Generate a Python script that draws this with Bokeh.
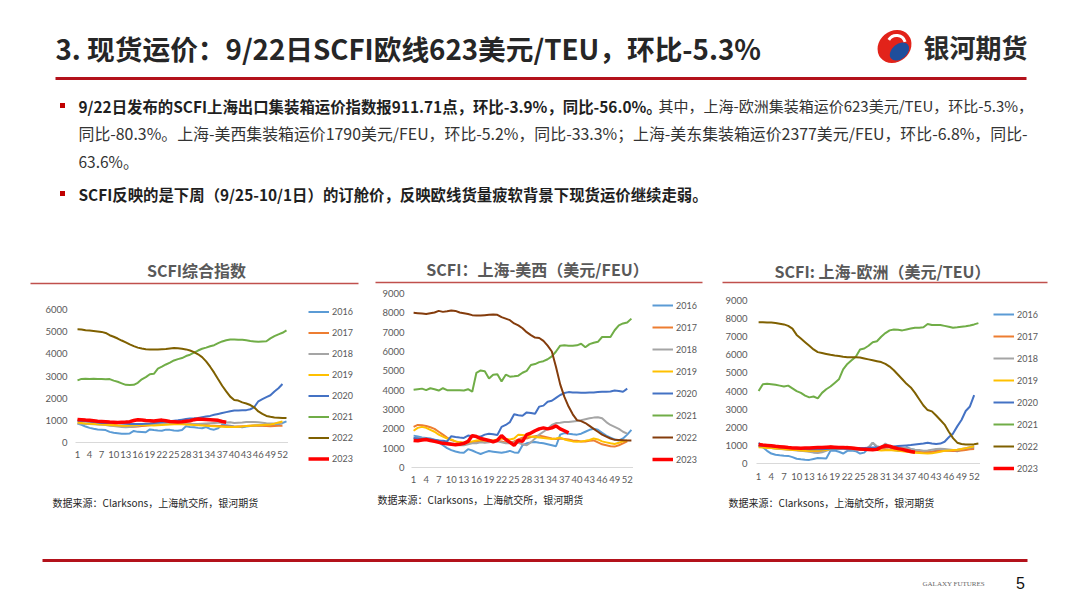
from bokeh.plotting import figure
from bokeh.models import Range1d, FixedTicker, Legend, LegendItem
from bokeh.layouts import column, row
from bokeh.embed import file_html
from bokeh.resources import INLINE
from bokeh.core.properties import value

NaN = float("nan")
CJK = "Noto Sans CJK SC"

# ---------------- text content ----------------
title_text = "3. 现货运价：9/22日SCFI欧线623美元/TEU，环比-5.3%"
logo_text = "银河期货"
para1_bold = "9/22日发布的SCFI上海出口集装箱运价指数报911.71点，环比-3.9%，同比-56.0%。"
para1_rest = "其中，上海-欧洲集装箱运价623美元/TEU，环比-5.3%，"
para1_line2 = "同比-80.3%。上海-美西集装箱运价1790美元/FEU，环比-5.2%，同比-33.3%；上海-美东集装箱运价2377美元/FEU，环比-6.8%，同比-"
para1_line3 = "63.6%。"
para2_bold = "SCFI反映的是下周（9/25-10/1日）的订舱价，反映欧线货量疲软背景下现货运价继续走弱。"
chart_titles = ["SCFI综合指数", "SCFI：上海-美西（美元/FEU）", "SCFI: 上海-欧洲（美元/TEU）"]
source_text = "数据来源：Clarksons，上海航交所，银河期货"
footer_brand = "GALAXY FUTURES"
page_no = "5"

# ---------------- data ----------------
weeks = list(range(1, 54))
years = ["2016", "2017", "2018", "2019", "2020", "2021", "2022", "2023"]
x_tick_labels = list(range(1, 53, 3))


def pad(v):
    return v + [NaN] * (53 - len(v))


# SCFI composite index
comp_2016 = [850, 800, 720, 660, 620, 590, 580, 560, 480, 440, 420, 400, 395, 410, 520, 480, 470, 460, 590, 560,
             540, 530, 580, 570, 540, 530, 560, 730, 700, 690, 660, 640, 700, 610, 580, 640, 800, 780, 760, 720,
             710, 690, 720, 740, 760, 780, 770, 750, 760, 780, 820, 880, 950]
comp_2017 = [1000, 980, 960, 940, 920, 900, 880, 860, 840, 800, 760, 740, 720, 700, 710, 720, 740, 760, 780, 800,
             820, 830, 850, 840, 860, 870, 880, 860, 850, 830, 820, 810, 790, 770, 760, 750, 740, 730, 720, 710,
             720, 730, 740, 760, 770, 760, 750, 740, 730, 740, 750, 760]
comp_2018 = [860, 850, 840, 830, 820, 810, 800, 790, 760, 740, 720, 700, 690, 700, 720, 760, 800, 810, 820, 830,
             840, 850, 860, 870, 880, 870, 860, 850, 840, 830, 840, 850, 860, 870, 880, 890, 890, 900, 910, 880,
             890, 900, 920, 930, 920, 910, 890, 870, 860, 860, 860, 860]
comp_2019 = [900, 880, 860, 850, 840, 820, 810, 800, 790, 780, 770, 760, 760, 770, 780, 790, 800, 790, 780, 770,
             780, 790, 800, 810, 820, 830, 820, 810, 800, 790, 780, 770, 760, 740, 730, 720, 710, 700, 700, 700,
             710, 720, 740, 760, 770, 780, 790, 800, 810, 850, 900, 950]
comp_2020 = [980, 970, 960, 950, 930, 900, 880, 880, 890, 900, 880, 860, 850, 840, 830, 830, 840, 850, 860, 880,
             900, 920, 940, 960, 980, 1000, 1030, 1060, 1080, 1090, 1110, 1140, 1170, 1200, 1250, 1290, 1330, 1370,
             1410, 1440, 1440, 1450, 1460, 1500, 1600, 1860, 1960, 2050, 2130, 2300, 2450, 2640]
comp_2021 = [2800, 2870, 2880, 2870, 2880, 2860, 2870, 2850, 2860, 2790, 2740, 2670, 2600, 2590, 2600, 2690, 2850,
             2950, 3080, 3100, 3330, 3420, 3520, 3600, 3700, 3760, 3810, 3900, 3960, 4050, 4150, 4230, 4280, 4340,
             4390, 4480, 4560, 4610, 4650, 4650, 4630, 4640, 4610, 4580, 4560, 4540, 4560, 4570, 4700, 4800, 4880,
             4950, 5060]
comp_2022 = [5110, 5100, 5060, 5050, 5030, 5010, 4990, 4940, 4840, 4770, 4690, 4600, 4520, 4430, 4350, 4280, 4240,
             4210, 4200, 4190, 4200, 4210, 4220, 4240, 4260, 4250, 4230, 4200, 4150, 4080, 3980, 3850, 3660, 3420,
             3150, 2850, 2560, 2310, 2070, 1920, 1890, 1810, 1760, 1690, 1580, 1400, 1290, 1200, 1160, 1130, 1120,
             1110, 1100]
comp_2023 = [1040, 1030, 1010, 1000, 980, 960, 950, 940, 920, 910, 900, 910, 920, 940, 990, 1030, 1010, 990, 980,
             970, 990, 1010, 980, 950, 940, 930, 940, 960, 980, 1030, 1060, 1050, 1040, 1030, 1020, 1000, 950, 912]

# Shanghai - US West (USD/FEU)
usw_2016 = [1650, 1600, 1550, 1530, 1500, 1420, 1300, 1150, 1000, 900, 830, 780, 760, 950, 880, 780, 700, 780, 850,
            820, 790, 760, 800, 860, 780, 760, 1150, 1250, 1300, 1320, 1280, 1250, 1200, 1150, 1100, 1700, 1780,
            1750, 1720, 1700, 1750, 1850, 1950, 2000, 1950, 1800, 1650, 1550, 1450, 1400, 1500, 1700, 1950]
usw_2017 = [2100, 2200, 2180, 2150, 2080, 2000, 1850, 1700, 1550, 1420, 1350, 1300, 1280, 1300, 1320, 1330, 1350,
            1400, 1420, 1400, 1380, 1350, 1300, 1280, 1350, 1450, 1550, 1500, 1580, 1620, 1650, 1600, 1550, 1500,
            1480, 1500, 1480, 1450, 1400, 1380, 1350, 1350, 1380, 1400, 1300, 1200, 1150, 1100, 1080, 1150, 1250, 1350]
usw_2018 = [1500, 1520, 1500, 1480, 1450, 1420, 1400, 1350, 1300, 1250, 1200, 1150, 1150, 1200, 1250, 1250, 1300,
            1280, 1300, 1350, 1350, 1300, 1250, 1250, 1300, 1280, 1200, 1150, 1300, 1500, 1700, 1850, 2000, 2200,
            2300, 2320, 2350, 2350, 2380, 2400, 2450, 2500, 2550, 2580, 2600, 2550, 2350, 2200, 2100, 2000, 1850, 1750]
usw_2019 = [1900, 2050, 2100, 2050, 1950, 1850, 1700, 1600, 1500, 1450, 1350, 1300, 1280, 1300, 1350, 1400, 1420,
            1400, 1380, 1400, 1450, 1500, 1480, 1450, 1500, 1700, 1680, 1650, 1600, 1580, 1550, 1520, 1500, 1480,
            1500, 1550, 1450, 1400, 1350, 1330, 1350, 1380, 1420, 1500, 1450, 1350, 1300, 1250, 1220, 1280, 1350, 1400]
usw_2020 = [1520, 1500, 1480, 1470, 1450, 1430, 1400, 1380, 1350, 1620, 1580, 1550, 1530, 1650, 1620, 1580, 1600,
            1700, 1750, 1720, 1680, 2100, 2200, 2350, 2750, 2700, 2680, 2850, 2820, 2780, 3150, 3200, 3400, 3450,
            3600, 3750, 3850, 3900, 3880, 3880, 3870, 3870, 3880, 3880, 3900, 3920, 3920, 3930, 3980, 3960, 3920, 4080]
usw_2021 = [4020, 4050, 4080, 4000, 4100, 4050, 3980, 4100, 4000, 3990, 4000, 4000, 3980, 4050, 3920, 4900, 5020,
            4980, 4600, 4800, 4820, 4450, 4800, 4700, 4720, 4750, 4900, 5000, 5300, 5350, 5450, 5500, 5600, 5750,
            6000, 6300, 6320, 6300, 6300, 6320, 6400, 6220, 6380, 6450, 6500, 6750, 6750, 6750, 7100, 7350, 7450,
            7500, 7700]
usw_2022 = [8000, 7980, 7960, 7940, 7980, 8020, 8100, 8050, 8080, 8120, 8100, 8020, 7980, 7940, 7880, 7860, 7860,
            7880, 7900, 7910, 7900, 7780, 7700, 7620, 7450, 7350, 7200, 7000, 6850, 6720, 6700, 6550, 6300, 6000,
            5200, 4300, 3650, 3150, 2750, 2450, 2400, 2300, 2150, 2000, 1850, 1700, 1600, 1500, 1430, 1420, 1410,
            1400, 1400]
usw_2023 = [1400, 1380, 1420, 1450, 1400, 1350, 1300, 1250, 1230, 1200, 1180, 1200, 1250, 1350, 1650, 1600, 1500,
            1450, 1400, 1320, 1400, 1650, 1450, 1300, 1150, 1400, 1350, 1700, 1780, 1900, 2000, 2050, 2000, 2050,
            2150, 2000, 1900, 1790]

# Shanghai - Europe (USD/TEU)
eu_2016 = [1150, 900, 700, 550, 480, 450, 430, 420, 350, 260, 230, 210, 200, 250, 300, 290, 280, 700, 720, 650, 550,
           700, 720, 680, 550, 600, 850, 1150, 900, 850, 1050, 900, 750, 700, 700, 900, 800, 750, 700, 650, 600, 650,
           700, 800, 750, 720, 700, 680, 750, 800, 850, 850]
eu_2017 = [950, 920, 900, 880, 850, 820, 800, 780, 760, 740, 720, 700, 680, 660, 650, 700, 800, 950, 900, 880, 900,
           920, 880, 850, 820, 800, 780, 820, 850, 830, 800, 780, 760, 740, 720, 700, 680, 670, 660, 640, 630, 650,
           680, 700, 720, 700, 690, 700, 720, 750, 780, 800]
eu_2018 = [1000, 950, 900, 850, 820, 800, 780, 760, 740, 720, 700, 680, 650, 600, 580, 620, 700, 780, 800, 820, 800,
           790, 780, 760, 740, 760, 900, 1150, 950, 900, 1100, 950, 900, 880, 860, 850, 800, 760, 740, 700, 720, 760,
           800, 820, 800, 780, 750, 760, 800, 850, 900, 950]
eu_2019 = [900, 880, 860, 850, 830, 810, 790, 770, 750, 740, 720, 700, 690, 700, 710, 730, 750, 800, 820, 840, 860,
           850, 840, 830, 820, 800, 780, 760, 740, 720, 730, 750, 720, 700, 680, 650, 620, 600, 580, 560, 550, 560,
           600, 650, 700, 720, 740, 760, 800, 850, 900, 950]
eu_2020 = [1000, 980, 960, 950, 920, 900, 880, 860, 850, 830, 810, 800, 790, 780, 780, 790, 800, 810, 820, 830, 830,
           820, 830, 840, 850, 860, 870, 880, 890, 900, 910, 920, 940, 960, 980, 1000, 1020, 1050, 1080, 1100, 1150,
           1100, 1080, 1100, 1200, 1450, 1650, 2050, 2400, 2900, 3150, 3780]
eu_2021 = [4000, 4380, 4400, 4380, 4350, 4300, 4250, 4300, 4150, 4000, 3900, 3750, 3650, 3700, 3600, 3900, 4100,
           4250, 4450, 4650, 5200, 5500, 5700, 5900, 6300, 6350, 6500, 6700, 6750, 7000, 7200, 7350, 7400, 7380,
           7350, 7400, 7450, 7500, 7500, 7520, 7700, 7650, 7650, 7650, 7600, 7550, 7500, 7520, 7550, 7580, 7620,
           7680, 7750]
eu_2022 = [7800, 7800, 7790, 7780, 7760, 7720, 7680, 7600, 7450, 7100, 6900, 6700, 6500, 6300, 6150, 6100, 6050,
           6000, 5960, 5940, 5900, 5870, 5860, 5860, 5850, 5800, 5750, 5700, 5650, 5600, 5500, 5350, 5150, 4900,
           4650, 4400, 4200, 3900, 3550, 3200, 2950, 2880, 2650, 2400, 2150, 1750, 1400, 1150, 1080, 1050, 1050,
           1060, 1100]
eu_2023 = [1050, 1020, 1000, 980, 950, 930, 910, 880, 860, 850, 840, 850, 860, 870, 880, 890, 900, 910, 900, 890,
           880, 870, 860, 830, 800, 780, 770, 760, 780, 900, 980, 950, 880, 820, 780, 720, 660, 623]

charts_data = [
    [comp_2016, comp_2017, comp_2018, comp_2019, comp_2020, comp_2021, comp_2022, comp_2023],
    [usw_2016, usw_2017, usw_2018, usw_2019, usw_2020, usw_2021, usw_2022, usw_2023],
    [eu_2016, eu_2017, eu_2018, eu_2019, eu_2020, eu_2021, eu_2022, eu_2023],
]
y_max = [6000, 9000, 9000]

base_colors = ["#5B9BD5", "#ED7D31", "#A5A5A5", "#FFC000", "#4472C4", "#70AD47", "#7F6000", "#FF0000"]
chart_colors = [
    base_colors,
    base_colors[:6] + ["#843C0C", "#FF0000"],
    base_colors,
]

RED = "#B3121B"
W = 1064


def no_align(p):
    try:
        p.frame_align = False
    except Exception:
        pass
    return p


def blank(p):
    p.axis.visible = False
    p.grid.visible = False
    p.outline_line_color = None
    return no_align(p)


# ---------------- header ----------------
hdr = blank(figure(width=W, height=286, x_range=Range1d(0, W), y_range=Range1d(286, 0),
                   output_backend="svg", toolbar_location=None, min_border=0))

hdr.text(x=[55], y=[47], text=[title_text], text_font=value(CJK), text_font_style="bold",
         text_font_size="27.7px", text_baseline="middle", text_align="left", text_color="#262626")
# logo
hdr.ellipse(x=[894], y=[46], width=[36], height=[31], angle=[0.7], fill_color="#E2231A", line_color=None)
hdr.ellipse(x=[899], y=[51], width=[22], height=[15], angle=[0.7], fill_color="#1F4E9C", line_color=None)
hdr.arc(x=[896], y=[44], radius=[9], start_angle=[0.3], end_angle=[2.6], line_color="white", line_width=3)
hdr.text(x=[923], y=[46], text=[logo_text], text_font=value(CJK), text_font_style="bold",
         text_font_size="26px", text_baseline="middle", text_align="left", text_color="#2B2B2B")
hdr.segment(x0=[55], y0=[78], x1=[1026], y1=[78], line_color=RED, line_width=3)

hdr.scatter(x=[62, 62], y=[105, 193], marker="square", size=5, fill_color="#C00000", line_color=None)
hdr.text(x=[78], y=[105], text=[para1_bold], text_font=value(CJK), text_font_style="bold",
         text_font_size="15.4px", text_baseline="middle", text_color="#1F1F1F")
hdr.text(x=[658], y=[105], text=[para1_rest], text_font=value(CJK),
         text_font_size="15px", text_baseline="middle", text_color="#333333")
hdr.text(x=[78], y=[133], text=[para1_line2], text_font=value(CJK),
         text_font_size="15.9px", text_baseline="middle", text_color="#333333")
hdr.text(x=[78], y=[160], text=[para1_line3], text_font=value(CJK),
         text_font_size="15.5px", text_baseline="middle", text_color="#333333")
hdr.text(x=[78], y=[193], text=[para2_bold], text_font=value(CJK), text_font_style="bold",
         text_font_size="15.4px", text_baseline="middle", text_color="#1F1F1F")

# chart titles and their rules
title_cx = [196, 537, 882]
title_cy = [269, 268, 270]
rule_x0 = [30, 375, 722]
rule_x1 = [358, 702, 1047]
rule_y = [283, 282, 282]
hdr.text(x=title_cx, y=title_cy, text=chart_titles, text_font=value(CJK), text_font_style="bold",
         text_font_size="16px", text_baseline="middle", text_align="center", text_color="#595959")
hdr.segment(x0=rule_x0, y0=rule_y, x1=rule_x1, y1=rule_y, line_color="#C0504D", line_width=1.5)


# ---------------- charts ----------------
def make_chart(idx, width, mbl, mbt, mbb, ystand, xstand):
    p = figure(width=width, height=204, x_range=Range1d(0.5, 53.5), y_range=Range1d(0, y_max[idx]),
               output_backend="svg", toolbar_location=None,
               min_border_left=mbl, min_border_right=0, min_border_top=mbt, min_border_bottom=mbb)
    no_align(p)
    p.grid.visible = False
    p.outline_line_color = None
    for yr, vals, col in zip(years, charts_data[idx], chart_colors[idx]):
        lw = 3.5 if yr == "2023" else 2
        p.line(weeks, pad(vals), line_color=col, line_width=lw)
    xa = p.xaxis[0]
    xa.ticker = FixedTicker(ticks=x_tick_labels)
    xa.axis_line_color = "#D9D9D9"
    xa.major_tick_line_color = None
    xa.minor_tick_line_color = None
    xa.major_tick_out = 0
    xa.major_tick_in = 0
    xa.major_label_standoff = xstand
    xa.major_label_text_font_size = "9.5px"
    xa.major_label_text_color = "#595959"
    xa.major_label_text_font = "Lato"
    ya = p.yaxis[0]
    ya.ticker = FixedTicker(ticks=list(range(0, y_max[idx] + 1, 1000)))
    ya.axis_line_color = None
    ya.major_tick_line_color = None
    ya.minor_tick_line_color = None
    ya.major_tick_out = 0
    ya.major_tick_in = 0
    ya.major_label_standoff = ystand
    ya.major_label_text_font_size = "9.5px"
    ya.major_label_text_color = "#595959"
    ya.major_label_text_font = "Lato"
    return p


def make_legend(idx, width, mbl, mbt, pitch):
    p = blank(figure(width=width, height=204, x_range=Range1d(0, 1), y_range=Range1d(0, 1),
                     output_backend="svg", toolbar_location=None,
                     min_border_left=mbl, min_border_top=mbt, min_border_right=0, min_border_bottom=0))
    items = []
    for yr, col in zip(years, chart_colors[idx]):
        lw = 3.5 if yr == "2023" else 2
        r = p.line([NaN, NaN], [NaN, NaN], line_color=col, line_width=lw)
        items.append(LegendItem(label=yr, renderers=[r]))
    leg = Legend(items=items, location="top_left", glyph_width=21, glyph_height=pitch, label_height=pitch,
                 label_standoff=3, spacing=0, padding=0, margin=0, border_line_color=None,
                 background_fill_alpha=0, label_text_font_size="9px", label_text_color="#595959",
                 label_text_font="Lato")
    p.add_layout(leg, "center")
    return p


c1 = make_chart(0, 288, 75, 23, 48, 8, 8)
l1 = make_legend(0, 77, 20, 15, 21)
c2 = make_chart(1, 268, 46, 7, 23, 7, 8)
l2 = make_legend(1, 79, 19, 8, 22)
c3 = make_chart(2, 268, 44, 14, 27, 9, 9)
l3 = make_legend(2, 84, 13, 17, 22)

# ---------------- footer ----------------
ftr = blank(figure(width=W, height=102, x_range=Range1d(0, W), y_range=Range1d(592, 490),
                   output_backend="svg", toolbar_location=None, min_border=0))
ftr.text(x=[52, 377, 728], y=[502, 499, 502], text=[source_text] * 3, text_font=value(CJK),
         text_font_size="10px", text_baseline="middle", text_color="#262626")
ftr.segment(x0=[42], y0=[560], x1=[1027], y1=[560], line_color=RED, line_width=3)
ftr.text(x=[922], y=[583], text=[footer_brand], text_font=value("Liberation Serif"),
         text_font_size="7px", text_baseline="middle", text_color="#666666")
ftr.text(x=[1020], y=[582], text=[page_no], text_font=value("Liberation Sans"),
         text_font_size="16px", text_baseline="middle", text_align="center", text_color="#111111")

layout = column(hdr, row(c1, l1, c2, l2, c3, l3, spacing=0), ftr, spacing=0)
open("out.html", "w").write(file_html(layout, INLINE))
